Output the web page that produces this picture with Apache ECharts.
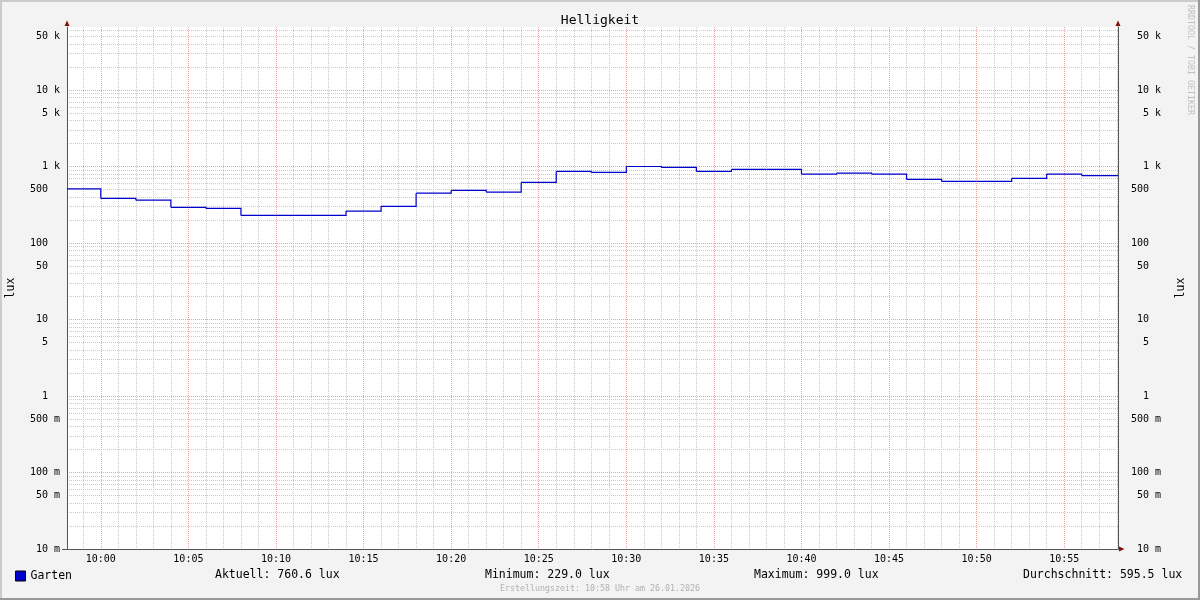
<!DOCTYPE html>
<html><head><meta charset="utf-8">
<script src="https://cdn.jsdelivr.net/npm/echarts@6/dist/echarts.min.js"></script>
<style>html,body{margin:0;padding:0;background:#f3f3f3}#c{width:1200px;height:600px}</style>
</head><body><div id="c"></div><script>
// ---- data ----
const chartTitle = 'Helligkeit';
const unitName = 'lux';
const seriesName = 'Garten';
// start of each step, minutes after 10:00 (last entry = end of the window)
const stepMinutes = [-2, 0, 2, 4, 6, 8, 10, 12, 14, 16, 18, 20, 22, 24, 26, 28, 30, 32, 34, 36, 38, 40, 42, 44, 46, 48, 50, 52, 54, 56, 58.07];
const luxValues   = [510, 382, 363, 292, 283, 229, 229, 229, 261, 301, 448, 486, 462, 618, 861, 835, 999, 970, 861, 914, 914, 794, 818, 794, 676, 637, 637, 697, 794, 760.6, 760.6];
const xWindow = [-1.93, 58.07];          // one hour window, minutes after 10:00
const yRange = [0.01, 66500];
const yTickValues = [0.01, 0.05, 0.1, 0.5, 1, 5, 10, 50, 100, 500, 1000, 5000, 10000, 50000];
const yTickLabels = ['10 m', '50 m', '100 m', '500 m', '1', '5', '10', '50', '100', '500', '1 k', '5 k', '10 k', '50 k'];
const statNames  = ['Aktuell:', 'Minimum:', 'Maximum:', 'Durchschnitt:'];
const statValues = ['760.6', '229.0', '999.0', '595.5'];
const footerText = 'Erstellungszeit: 10:58 Uhr am 26.01.2026';
const watermark = 'RRDTOOL / TOBI OETIKER';

// ---- chart ----
const MONO = 'DejaVu Sans Mono';
const MAJOR = '#eda2a2';
const MINOR = '#cbcbcb';
const AXIS = '#555555';
const ARROW = '#801010';
const LINE = '#0000cc';

function yLabel(v) {
  let i = -1, best = Infinity;
  yTickValues.forEach((t, k) => { const d = Math.abs(Math.log10(t) - Math.log10(v)); if (d < best) { best = d; i = k; } });
  if (best > 0.01) return '';
  let s = yTickLabels[i];
  if (s.indexOf(' ') < 0) s = s + '\u00a0\u00a0';
  return s.replace(' ', '\u00a0');
}
function xLabel(m) {
  const r = Math.round(m);
  const h = 10 + Math.floor(r / 60), mm = ((r % 60) + 60) % 60;
  return String(h).padStart(2, '0') + ':' + String(mm).padStart(2, '0');
}

// each step: [start, value, next start, next value]
const stepData = [];
for (let i = 0; i < stepMinutes.length - 1; i++) {
  stepData.push([stepMinutes[i], luxValues[i], stepMinutes[i + 1], luxValues[i + 1]]);
}

function renderStep(params, api) {
  const x0 = api.value(0), v0 = api.value(1), x1 = api.value(2), v1 = api.value(3);
  let pts = [api.coord([x0, v0]), api.coord([x1, v0]), api.coord([x1, v1])];
  const cs = params.coordSys;
  pts = echarts.graphic.clipPointsByRect(pts, { x: cs.x, y: cs.y, width: cs.width, height: cs.height });
  return { type: 'polyline', shape: { points: pts }, style: { stroke: LINE, lineWidth: 1.2, fill: null } };
}

const yCommon = {
  type: 'log', logBase: 10, min: yRange[0], max: yRange[1], interval: 1,
  name: unitName, nameLocation: 'middle', nameRotate: 90,
  nameTextStyle: { fontFamily: MONO, fontSize: 11.5, color: '#000' },
  axisLine: { show: true, onZero: false, lineStyle: { color: AXIS, width: 1 } },
  axisTick: { show: false, customValues: yTickValues },
  axisLabel: { customValues: yTickValues, formatter: yLabel, fontFamily: MONO, fontSize: 10, color: '#000', verticalAlign: 'middle', padding: [5, 0, 0, 0] },
  minorTick: { show: false, splitNumber: 9 }
};

const option = {
  backgroundColor: '#f3f3f3',
  animation: false,
  title: { text: chartTitle, left: 'center', top: 9, textStyle: { fontFamily: MONO, fontSize: 13, fontWeight: 'normal', color: '#000' } },
  grid: { left: 67, top: 27, width: 1051, height: 522, show: true, backgroundColor: '#ffffff', borderWidth: 0, containLabel: false, outerBoundsMode: 'none' },
  legend: {
    left: 15, top: 570, padding: 0, itemWidth: 10, itemHeight: 10, itemGap: 0,
    icon: 'rect',
    textStyle: { fontFamily: MONO, fontSize: 11.5, color: '#000' },
    itemStyle: { color: LINE, borderColor: '#000', borderWidth: 1 },
    data: [seriesName]
  },
  xAxis: {
    type: 'value', min: xWindow[0], max: xWindow[1], minInterval: 5, maxInterval: 5,
    axisLine: { show: true, onZero: false, lineStyle: { color: AXIS, width: 1 } },
    axisTick: { show: false },
    axisLabel: { formatter: xLabel, showMinLabel: false, showMaxLabel: false, fontFamily: MONO, fontSize: 10, color: '#000', margin: 5 },
    splitLine: { show: true, showMinLine: false, showMaxLine: false, lineStyle: { color: MAJOR, width: 1, type: [1, 1] } },
    minorTick: { show: false, splitNumber: 5 },
    minorSplitLine: { show: true, lineStyle: { color: MINOR, width: 1, type: [1, 1] } }
  },
  yAxis: [
    Object.assign({}, yCommon, {
      position: 'left', nameGap: 50,
      splitLine: { show: true, lineStyle: { color: MAJOR, width: 1, type: [1, 1] } },
      minorSplitLine: { show: true, lineStyle: { color: MINOR, width: 1, type: [1, 1] } },
      axisLabel: Object.assign({}, yCommon.axisLabel, { margin: 7 })
    }),
    Object.assign({}, yCommon, {
      position: 'right', nameGap: 57,
      splitLine: { show: false }, minorSplitLine: { show: false },
      axisLabel: Object.assign({}, yCommon.axisLabel, { margin: 43, align: 'right' })
    })
  ],
  series: [{
    name: seriesName, type: 'custom', data: stepData, renderItem: renderStep,
    encode: { x: [0, 2], y: [1, 3] },
    xAxisIndex: 0, yAxisIndex: 0,
    itemStyle: { color: LINE },
    z: 5
  }],
  graphic: [
    // frame
    { type: 'rect', shape: { x: 0, y: 0, width: 1200, height: 2 }, style: { fill: '#cbcbcb' }, silent: true },
    { type: 'rect', shape: { x: 0, y: 0, width: 2, height: 600 }, style: { fill: '#cbcbcb' }, silent: true },
    { type: 'rect', shape: { x: 0, y: 598, width: 1200, height: 2 }, style: { fill: '#999999' }, silent: true },
    { type: 'rect', shape: { x: 1198, y: 0, width: 2, height: 600 }, style: { fill: '#999999' }, silent: true },
    // axis arrows
    { type: 'polygon', shape: { points: [[64.5, 26], [69.5, 26], [67, 20.5]] }, style: { fill: ARROW }, silent: true, z: 10 },
    { type: 'polygon', shape: { points: [[1115.5, 26], [1120.5, 26], [1118, 20.5]] }, style: { fill: ARROW }, silent: true, z: 10 },
    { type: 'polygon', shape: { points: [[1119, 546.5], [1119, 551.5], [1124.5, 549]] }, style: { fill: ARROW }, silent: true, z: 10 },
    { type: 'line', shape: { x1: 62, y1: 549.5, x2: 67, y2: 549.5 }, style: { stroke: AXIS, lineWidth: 1 }, silent: true },
    // stats
    { type: 'text', x: 215, y: 575.5, style: { text: statNames[0] + ' ' + statValues[0] + ' ' + unitName, font: '11.5px "DejaVu Sans Mono"', fill: '#000', verticalAlign: 'middle' } },
    { type: 'text', x: 485, y: 575.5, style: { text: statNames[1] + ' ' + statValues[1] + ' ' + unitName, font: '11.5px "DejaVu Sans Mono"', fill: '#000', verticalAlign: 'middle' } },
    { type: 'text', x: 754, y: 575.5, style: { text: statNames[2] + ' ' + statValues[2] + ' ' + unitName, font: '11.5px "DejaVu Sans Mono"', fill: '#000', verticalAlign: 'middle' } },
    { type: 'text', x: 1023, y: 575.5, style: { text: statNames[3] + ' ' + statValues[3] + ' ' + unitName, font: '11.5px "DejaVu Sans Mono"', fill: '#000', verticalAlign: 'middle' } },
    { type: 'text', x: 600, y: 589, style: { text: footerText, font: '8.3px "DejaVu Sans Mono"', fill: '#b0b0b0', align: 'center', verticalAlign: 'middle' } },
    { type: 'text', x: 1190, y: 5, rotation: -Math.PI / 2, style: { text: watermark, font: '8.3px "DejaVu Sans Mono"', fill: '#c0c0c0', align: 'left', verticalAlign: 'middle' } }
  ]
};
const chart = echarts.init(document.getElementById('c'), null, { renderer: 'canvas' });
chart.setOption(option);
</script></body></html>
